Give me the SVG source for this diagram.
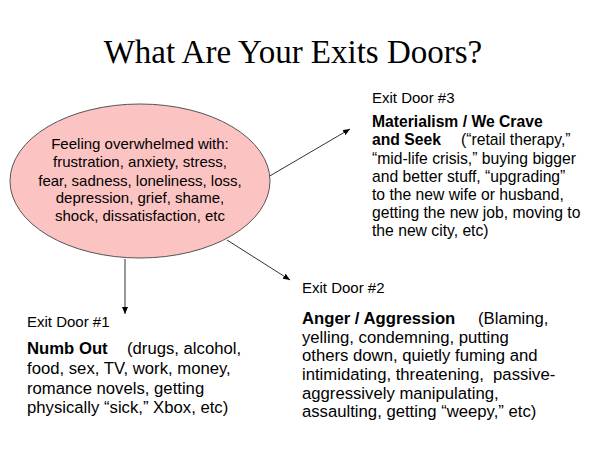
<svg xmlns="http://www.w3.org/2000/svg" width="600" height="450" viewBox="0 0 600 450">
<defs>
<marker id="ah" markerWidth="7" markerHeight="6" refX="7" refY="3" orient="auto" markerUnits="userSpaceOnUse">
<path d="M0,0 L7,3 L0,6 Z" fill="#000"/>
</marker>
<style>
.t{font-family:"Liberation Sans",Arial,sans-serif;fill:#000}
.lbl{font-size:15px}
.b{font-weight:bold}
.body{font-size:16.7px}
.body3{font-size:15.7px}
.ell{font-size:15px;text-anchor:middle}
.title{font-family:"Liberation Serif","Times New Roman",serif;font-size:33px;text-anchor:middle;fill:#000}
.conn{stroke:#333;stroke-width:1;fill:none;marker-end:url(#ah)}
</style>
</defs>
<rect width="600" height="450" fill="#fff"/>
<text class="title" x="293" y="63">What Are Your Exits Doors?</text>

<g id="connectors">
<line class="conn" x1="268" y1="177" x2="350" y2="129"/>
<line class="conn" x1="227" y1="240" x2="290" y2="280"/>
<line class="conn" x1="125" y1="259" x2="125" y2="314"/>
</g>

<g id="feelings">
<ellipse cx="140" cy="181" rx="130" ry="77" fill="#fcc3c3" stroke="#555" stroke-width="1"/>
<text class="t ell" x="140" y="149">Feeling overwhelmed with:</text>
<text class="t ell" x="140" y="167.3">frustration, anxiety, stress,</text>
<text class="t ell" x="140" y="185.5">fear, sadness, loneliness, loss,</text>
<text class="t ell" x="140" y="203">depression, grief, shame,</text>
<text class="t ell" x="140" y="220.5">shock, dissatisfaction, etc</text>
</g>

<g id="door3">
<text class="t lbl" x="372" y="103">Exit Door #3</text>
<text class="t body3 b" x="372" y="127">Materialism / We Crave</text>
<text class="t body3" x="372" y="145"><tspan class="b">and Seek</tspan><tspan x="461">(“retail therapy,”</tspan></text>
<text class="t body3" x="372" y="163.5">“mid-life crisis,” buying bigger</text>
<text class="t body3" x="372" y="182">and better stuff, “upgrading”</text>
<text class="t body3" x="372" y="200">to the new wife or husband,</text>
<text class="t body3" x="372" y="218">getting the new job, moving to</text>
<text class="t body3" x="372" y="236">the new city, etc)</text>
</g>

<g id="door2">
<text class="t lbl" x="302" y="293">Exit Door #2</text>
<text class="t body" x="302" y="324"><tspan class="b">Anger / Aggression</tspan><tspan x="478">(Blaming,</tspan></text>
<text class="t body" x="302" y="342.7">yelling, condemning, putting</text>
<text class="t body" x="302" y="361.3">others down, quietly fuming and</text>
<text class="t body" x="302" y="380" xml:space="preserve">intimidating, threatening,  passive-</text>
<text class="t body" x="302" y="398.5">aggressively manipulating,</text>
<text class="t body" x="302" y="417">assaulting, getting “weepy,” etc)</text>
</g>

<g id="door1">
<text class="t lbl" x="27" y="327">Exit Door #1</text>
<text class="t body" x="27" y="354"><tspan class="b">Numb Out</tspan><tspan x="127">(drugs, alcohol,</tspan></text>
<text class="t body" x="27" y="374">food, sex, TV, work, money,</text>
<text class="t body" x="27" y="393.5">romance novels, getting</text>
<text class="t body" x="27" y="413">physically “sick,” Xbox, etc)</text>
</g>
</svg>
